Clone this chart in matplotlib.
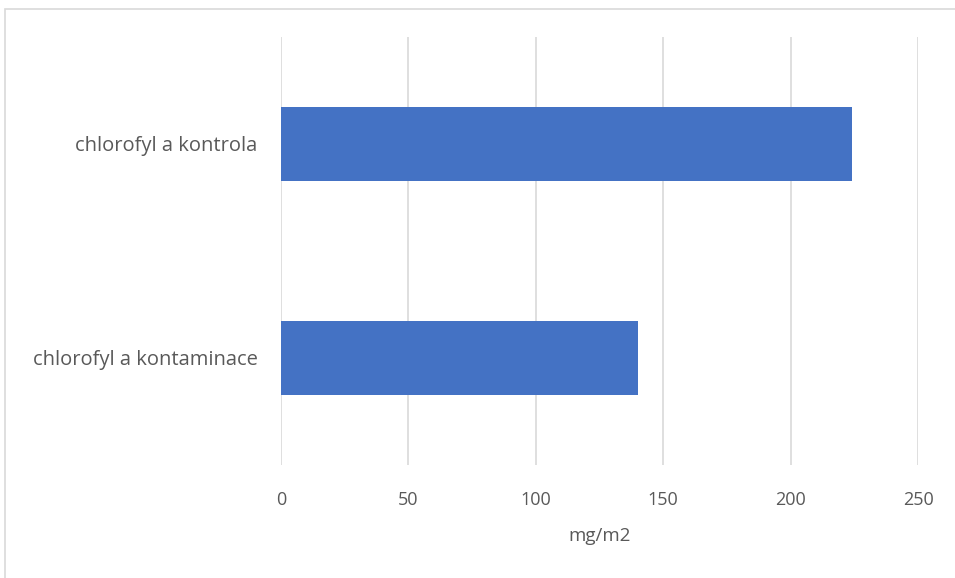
import matplotlib
matplotlib.use("Agg")
import matplotlib.pyplot as plt
from matplotlib.patches import Rectangle

# data (bottom to top, as Excel draws it)
categories = ["chlorofyl a kontaminace", "chlorofyl a kontrola"]
values = [140, 224]
xticks = [0, 50, 100, 150, 200, 250]
xlabel = "mg/m2"

BAR_COLOR = "#4472c4"
TEXT_COLOR = "#595959"
GRID_COLOR = "#d9d9d9"

plt.rcParams["font.family"] = ["Open Sans", "DejaVu Sans"]

W, H = 955, 578
fig = plt.figure(figsize=(W / 100, H / 100), dpi=100)

# outer chart border (right/bottom run off the image)
fig.patches.append(Rectangle((5 / W, -0.1), 1.2, 1 - 9 / H + 0.1,
                             transform=fig.transFigure, fill=False,
                             edgecolor=GRID_COLOR, linewidth=1.2))

# plot area in pixels: x 281..918, y 37..465
ax = fig.add_axes([281 / W, 1 - 465 / H, (918 - 281) / W, (465 - 37) / H])
ax.barh(range(len(categories)), values, height=0.35, color=BAR_COLOR, zorder=3)
ax.set_xlim(0, 250)
ax.set_ylim(-0.5, len(categories) - 0.5)
ax.set_xticks(xticks)
ax.set_xticklabels([str(t) for t in xticks])
ax.set_yticks(range(len(categories)))
ax.set_yticklabels(categories)
ax.grid(axis="x", color=GRID_COLOR, linewidth=1.2, zorder=0)
for s in ax.spines.values():
    s.set_visible(False)
ax.tick_params(length=0, colors=TEXT_COLOR)
ax.tick_params(axis="x", pad=19, labelsize=13)
ax.tick_params(axis="y", pad=17, labelsize=14.5)
ax.set_xlabel(xlabel, fontsize=13.5, color=TEXT_COLOR, labelpad=13)

fig.savefig("out.png", dpi=100)
